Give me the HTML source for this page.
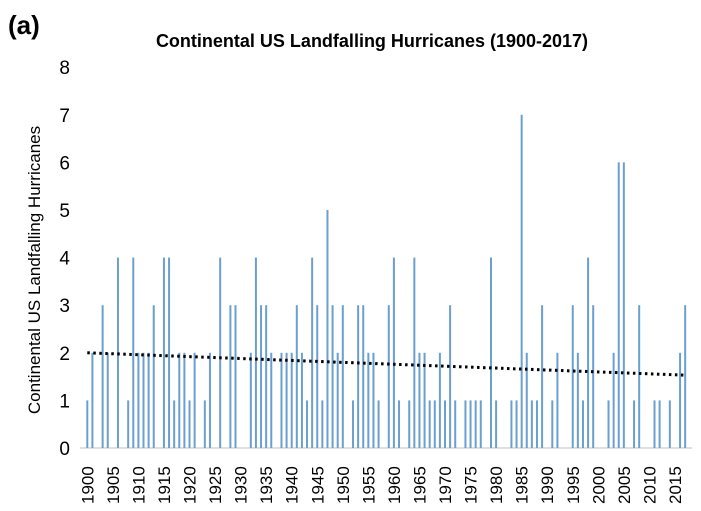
<!DOCTYPE html>
<html><head><meta charset="utf-8"><style>
body{margin:0;background:#fff;width:701px;height:511px;overflow:hidden;font-family:"Liberation Sans",sans-serif}
svg{display:block}
</style></head><body>
<svg id="chart" width="701" height="511">
<text x="8" y="34" font-size="26" font-weight="bold">(a)</text>
<text x="372" y="47" font-size="18" font-weight="bold" text-anchor="middle">Continental US Landfalling Hurricanes (1900-2017)</text>
<text transform="translate(40,270) rotate(-90)" font-size="17" text-anchor="middle">Continental US Landfalling Hurricanes</text>
<g id="yt"></g><g id="bars"></g><g id="xt"></g><g id="trend"></g>
</svg>
<script>
const years=[];for(let y=1900;y<=2017;y++)years.push(y);
const counts=[1,2,0,3,2,0,4,0,1,4,2,2,2,3,0,4,4,1,2,2,1,2,0,1,2,0,4,0,3,3,0,0,2,4,3,3,2,0,2,2,
2,3,2,1,4,3,1,5,3,2,3,0,1,3,3,2,2,1,0,3,4,1,0,1,4,2,2,1,1,2,1,3,1,0,1,1,1,1,0,4,
1,0,0,1,1,7,2,1,1,3,0,1,2,0,0,3,2,1,4,3,0,0,1,2,6,6,0,1,3,0,0,1,1,0,1,0,2,3];
const yTicks=[0,1,2,3,4,5,6,7,8];
const xTickYears=[1900,1905,1910,1915,1920,1925,1930,1935,1940,1945,1950,1955,1960,1965,1970,1975,1980,1985,1990,1995,2000,2005,2010,2015];
const trendStart=2.0, trendEnd=1.53;
const X=y=>87.3+(y-1900)*5.11, Y=v=>448-v*47.6;
const ns="http://www.w3.org/2000/svg";
function mk(t,a,p){const e=document.createElementNS(ns,t);for(const k in a)e.setAttribute(k,a[k]);p.appendChild(e);return e;}
const yt=document.getElementById('yt'),bars=document.getElementById('bars'),xt=document.getElementById('xt'),tr=document.getElementById('trend');
yTicks.forEach(v=>{const t=mk('text',{x:70,y:Y(v)+7,'font-size':19,'text-anchor':'end'},yt);t.textContent=v;

});
const ax=mk('line',{x1:80,x2:692,y1:448,y2:448,stroke:'#bfbfbf','stroke-width':1},yt);


years.forEach((y,i)=>{if(!counts[i])return;const r=mk('rect',{x:X(y)-1,y:Y(counts[i]),width:2,height:counts[i]*47.6,fill:'#6b9fd0'},bars);

});
xTickYears.forEach(y=>{const t=mk('text',{transform:`translate(${X(y)+6},504) rotate(-90)`,'font-size':17},xt);t.textContent=y;

});
const l=mk('line',{x1:X(1900),x2:X(2017),y1:Y(trendStart),y2:Y(trendEnd),stroke:'#000','stroke-width':3,'stroke-dasharray':'2.5 3.5'},tr);


</script>
</body></html>
